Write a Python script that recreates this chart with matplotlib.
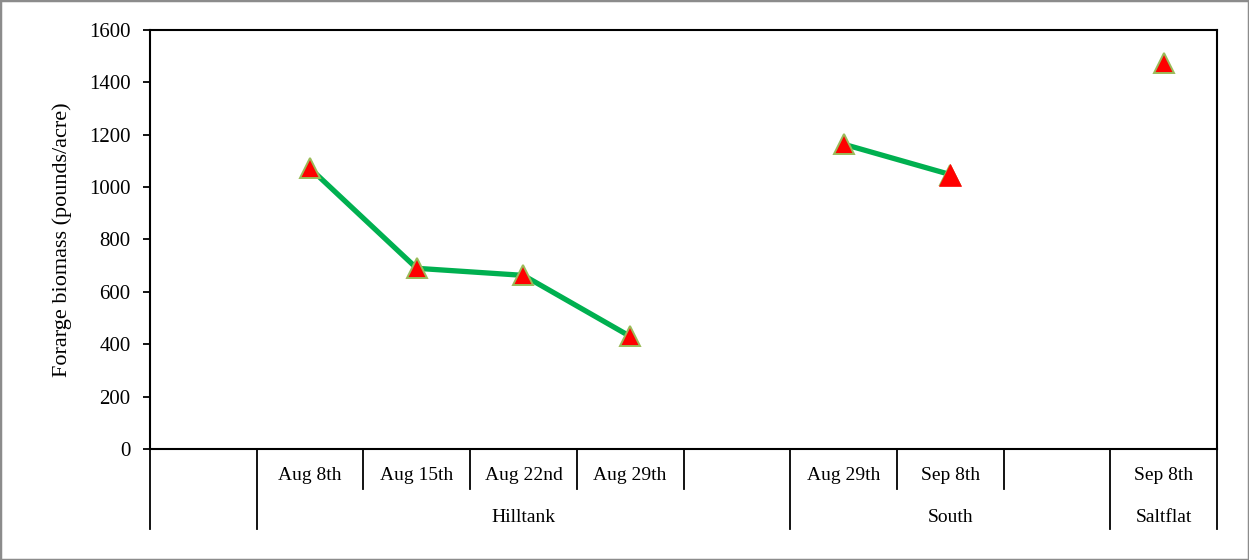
import numpy as np
import matplotlib.pyplot as plt
from matplotlib.patches import Rectangle

# Two-level category axis: dates within sites
dates = ['', 'Aug 8th', 'Aug 15th', 'Aug 22nd', 'Aug 29th', '',
         'Aug 29th', 'Sep 8th', '', 'Sep 8th']
sites = ['Hilltank', 'South', 'Saltflat']
site_spans = [(1, 5), (6, 8), (9, 9)]   # first and last category index of each site
biomass = [np.nan, 1072, 690, 663, 430, np.nan, 1164, 1048, np.nan, 1473]

plt.rcParams['font.family'] = ['Liberation Serif']
FS = 14

fig = plt.figure(figsize=(12.49, 5.6), dpi=100)
ax = fig.add_axes([150 / 1249, 1 - 449 / 560, 1067 / 1249, 419 / 560])

x = np.arange(len(dates))
y = np.array(biomass, dtype=float)

ax.plot(x, y, color='#00B050', lw=3.8, solid_capstyle='butt', zorder=2)
ax.plot(x, y, ls='none', marker='^', ms=14, mfc='#FF0000', mec='#9BBB59',
        mew=1.4, zorder=3)
# the South Sep 8th point has no outline and is slightly bigger
ax.plot(x[7], y[7], ls='none', marker='^', ms=15.5, mfc='#FF0000', mec='#FF0000',
        mew=0.5, zorder=4)

ax.set_xlim(-0.5, len(dates) - 0.5)
ax.set_ylim(0, 1600)
ax.set_yticks(np.arange(0, 1601, 200))
ax.set_xticks([])
ax.tick_params(axis='y', direction='out', length=5, width=1.3, labelsize=15, pad=9)
for s in ax.spines.values():
    s.set_linewidth(1.5)
ax.set_ylabel('Forarge biomass (pounds/acre)', fontsize=16, labelpad=12)

# category axis drawn below the plot
tr = ax.get_xaxis_transform()
short, long_ = -40 / 419, -80 / 419
group_edges = {-0.5, len(dates) - 0.5}
for a, b in site_spans:
    group_edges.add(a - 0.5)
    group_edges.add(b + 0.5)
for i in range(len(dates) + 1):
    xe = i - 0.5
    y1 = long_ if xe in group_edges else short
    ax.plot([xe, xe], [0, y1], color='black', lw=1.3, transform=tr, clip_on=False)
for i, d in enumerate(dates):
    if d:
        ax.text(i, -27 / 419, d, transform=tr, ha='center', va='center', fontsize=FS)
for name, (a, b) in zip(sites, site_spans):
    ax.text((a + b) / 2, -68 / 419, name, transform=tr, ha='center', va='center',
            fontsize=FS)

# thin grey frame round the picture
fig.patches.append(Rectangle((0, 0), 1, 1, transform=fig.transFigure, fill=False,
                             edgecolor='#8c8c8c', lw=2.5))

fig.savefig('out.png', dpi=100)
